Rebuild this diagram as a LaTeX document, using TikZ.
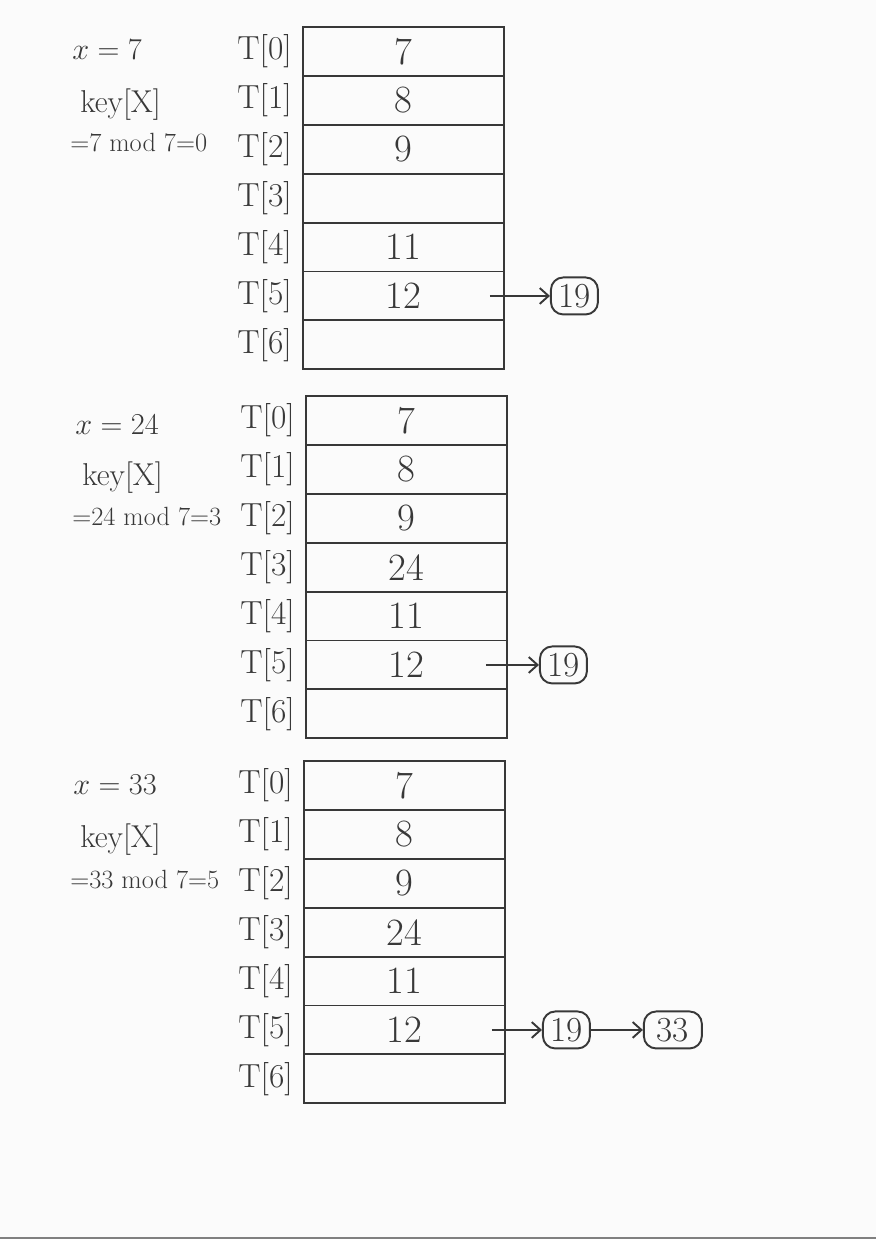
\documentclass[tikz,border=0pt]{standalone}
\usetikzlibrary{positioning,calc,arrows.meta}

\definecolor{inkcolor}{rgb}{0.22,0.22,0.22}
\definecolor{papercolor}{rgb}{0.985,0.985,0.985}

\tikzset{
  cell/.style={draw=inkcolor, line width=1.1pt, minimum width=4.02cm, minimum height=0.978cm,
    inner sep=0pt, outer sep=0pt, font=\fontsize{22}{24}\selectfont, text=inkcolor},
  idx/.style={inner sep=0pt, font=\fontsize{19}{22}\selectfont, text=inkcolor},
  note/.style={anchor=west, inner sep=0pt, font=\fontsize{18}{21}\selectfont, text=inkcolor},
  modnote/.style={note, font=\fontsize{15}{18}\selectfont},
  item/.style={draw=inkcolor, line width=1.1pt, rounded corners=7pt, minimum height=0.74cm,
    minimum width=0.94cm, inner sep=2pt, font=\fontsize{20}{22}\selectfont, text=inkcolor},
  link/.style={draw=inkcolor, line width=1.1pt, -{Straight Barb[length=5pt,width=9pt]}}
}

\begin{document}
\begin{tikzpicture}[x=0.02cm, y=-0.02cm]
% paper
\fill[papercolor] (0,0) rectangle (876,1239);
\useasboundingbox (0,0) rectangle (876,1239);
\draw[gray, line width=1.2pt] (0,1238) -- (876,1238);

% three hash tables
\foreach \t/\ox/\oy/\vals in {a/303/27/{7,8,9,{},11,12,{}},
                              b/306/396/{7,8,9,24,11,12,{}},
                              c/304/761/{7,8,9,24,11,12,{}}}{
  \foreach \v [count=\i from 0] in \vals {
    \node[cell] (\t\i) at (\ox+100.5, \oy+24.45+48.9*\i) {\v};
    \node[idx, left=0.22cm of \t\i] (l\t\i) {T[\i]};
  }
}

% x = 7
\node[note] (xa) at (72,50) {$x=7$};
\node[note] (ka) at (80,105) {key[X]};
\node[modnote] (ma) at (70,143) {=7 mod 7=0};
\node[item, right=0.92cm of a5] (a19) {19};
\draw[link] ($(a5.east)+(-14,0)$) -- (a19);

% x = 24
\node[note] (xb) at (75,425) {$x=24$};
\node[note] (kb) at (82,478) {key[X]};
\node[modnote] (mb) at (72,517) {=24 mod 7=3};
\node[item, right=0.64cm of b5] (b19) {19};
\draw[link] ($(b5.east)+(-21,0)$) -- (b19);

% x = 33
\node[note] (xc) at (73,785) {$x=33$};
\node[note] (kc) at (80,840) {key[X]};
\node[modnote] (mc) at (70,880) {=33 mod 7=5};
\node[item, right=0.74cm of c5] (c19) {19};
\node[item, minimum width=1.16cm, right=1.04cm of c19] (c33) {33};
\draw[link] ($(c5.east)+(-13,0)$) -- (c19);
\draw[link] (c19) -- (c33);
\end{tikzpicture}
\end{document}
